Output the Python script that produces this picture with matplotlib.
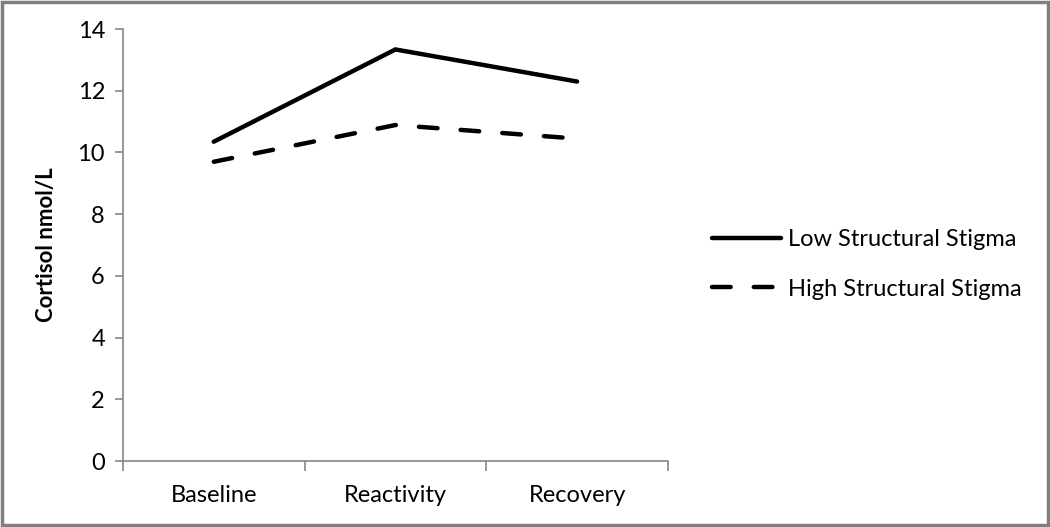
import matplotlib
matplotlib.use("Agg")
import matplotlib.pyplot as plt
from matplotlib.patches import Rectangle

categories = ["Baseline", "Reactivity", "Recovery"]
low_stigma = [10.35, 13.34, 12.30]
high_stigma = [9.70, 10.89, 10.45]
yticks = [0, 2, 4, 6, 8, 10, 12, 14]

plt.rcParams['font.family'] = ['Lato', 'DejaVu Sans']
fig = plt.figure(figsize=(10.5, 5.27), dpi=100)
ax = fig.add_axes([0.1171, 0.1252, 0.5190, 0.8196])

x = list(range(len(categories)))
ax.plot(x, low_stigma, color='black', lw=3.2, solid_capstyle='round',
        solid_joinstyle='miter', label='Low Structural Stigma')
ax.plot(x, high_stigma, color='black', lw=3.2, dashes=(4.2, 5.2),
        dash_capstyle='round', label='High Structural Stigma')

ax.set_xlim(-0.5, 2.5)
ax.set_ylim(0, 14)
ax.set_yticks(yticks)
ax.set_yticklabels([str(v) for v in yticks])
ax.set_xticks(x)
ax.set_xticklabels(categories)
ax.set_xticks([-0.5, 0.5, 1.5, 2.5], minor=True)

axis_color = '#868686'
for s in ['top', 'right']:
    ax.spines[s].set_visible(False)
for s in ['left', 'bottom']:
    ax.spines[s].set_color(axis_color)
    ax.spines[s].set_linewidth(1.2)
ax.tick_params(axis='y', direction='out', length=6, width=1.2, color=axis_color,
               labelsize=17, pad=7, labelcolor='black')
ax.tick_params(axis='x', which='major', length=0, labelsize=17, pad=17)
ax.tick_params(axis='x', which='minor', direction='out', length=7, width=1.2,
               color=axis_color)
ax.set_ylabel('Cortisol nmol/L', fontsize=16, fontweight='bold', labelpad=15)

leg = fig.legend(loc='center left', bbox_to_anchor=(0.658, 0.498), frameon=False,
                 fontsize=17, handlelength=2.9, handletextpad=0.3,
                 labelspacing=1.2)

fig.patches.append(Rectangle((0.0015, 0.003), 0.997, 0.994, transform=fig.transFigure,
                             fill=False, edgecolor='#7f7f7f', lw=2.5, zorder=10))

fig.savefig('out.png', dpi=100)
